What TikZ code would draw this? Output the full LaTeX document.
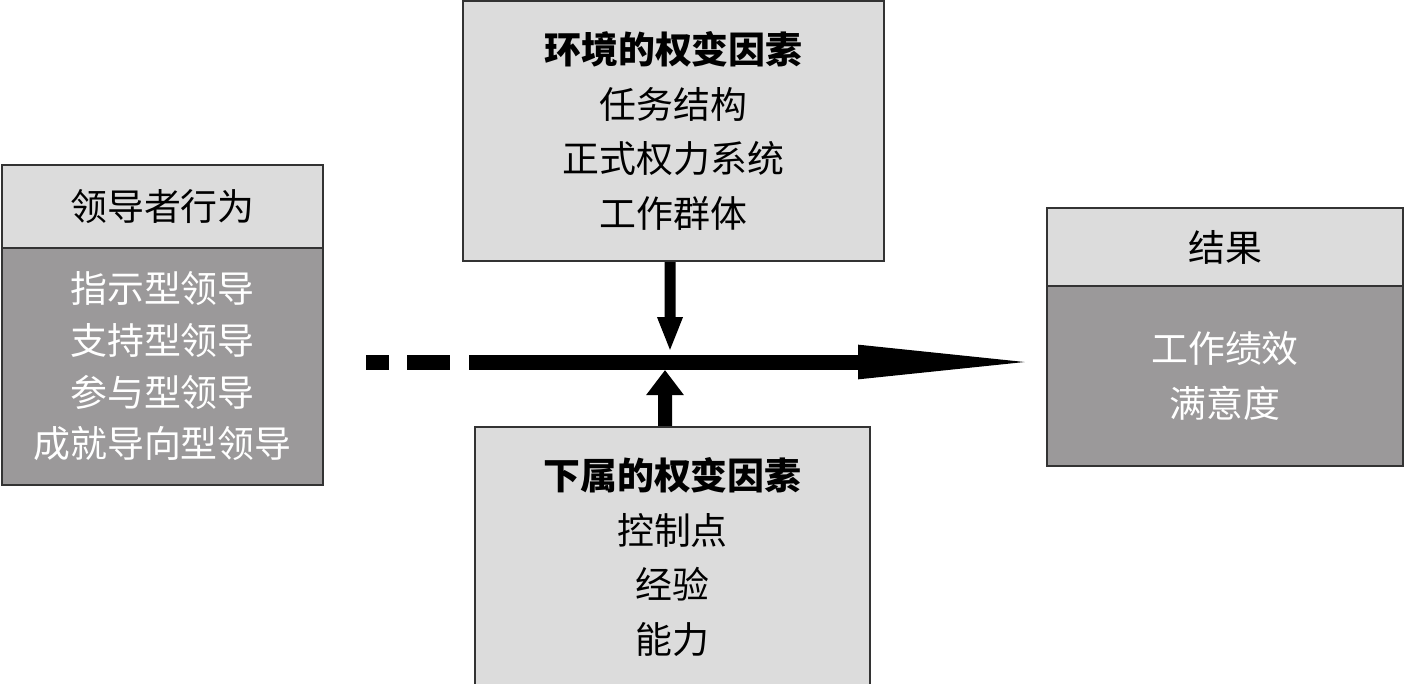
\documentclass[tikz,border=0pt]{standalone}
\usepackage{fontspec}
\newfontfamily\cjk{Noto Sans CJK SC}
\usetikzlibrary{arrows.meta}
\definecolor{lightbox}{HTML}{DCDCDC}
\definecolor{darkbox}{HTML}{9B999A}

\begin{document}
\begin{tikzpicture}[
  box/.style={draw=black!80, line width=0.6pt, fill=lightbox, align=center, inner sep=0pt,
    font=\cjk\fontsize{10.5}{15.6}\selectfont},
  body/.style={box, fill=darkbox, text=white}]
  \useasboundingbox (0,0) rectangle (14.04,6.83);
  % leader behaviour
  \node[box, minimum width=3.21cm, minimum height=0.83cm] (lead) at (1.625,4.765) {领导者行为};
  \node[body, minimum width=3.21cm, minimum height=2.37cm, font=\cjk\fontsize{10.5}{14.7}\selectfont] (style) at (1.625,3.165)
    {指示型领导\\支持型领导\\参与型领导\\成就导向型领导};
  % contingency factors
  \node[box, minimum width=4.21cm, minimum height=2.60cm] (env) at (6.735,5.52)
    {{\bfseries 环境的权变因素}\\任务结构\\正式权力系统\\工作群体};
  \node[box, minimum width=3.95cm, minimum height=2.60cm] (sub) at (6.725,1.26)
    {{\bfseries 下属的权变因素}\\控制点\\经验\\能力};
  % outcomes
  \node[box, minimum width=3.56cm, minimum height=0.78cm] (res) at (12.25,4.36) {结果};
  \node[body, minimum width=3.56cm, minimum height=1.80cm] (out) at (12.25,3.07) {工作绩效\\满意度};
  % arrows
  \coordinate (dash) at (3.66,3.21);
  \coordinate (tip) at (10.47,3.21);
  \coordinate (downtip) at (6.70,3.31);
  \coordinate (uptip) at (6.65,3.13);
  \draw[line width=0.15cm, dash pattern=on 0.23cm off 0.18cm on 0.43cm off 0.19cm on 20cm,
    -{Triangle[length=1.89cm,width=0.30cm]}] (dash) -- (tip);
  \draw[line width=0.11cm, -{Triangle[length=0.35cm,width=0.23cm]}] ([xshift=-0.035cm]env.south) -- (downtip);
  \draw[line width=0.14cm, -{Triangle[length=0.25cm,width=0.36cm]}] ([xshift=-0.075cm]sub.north) -- (uptip);
\end{tikzpicture}
\end{document}
